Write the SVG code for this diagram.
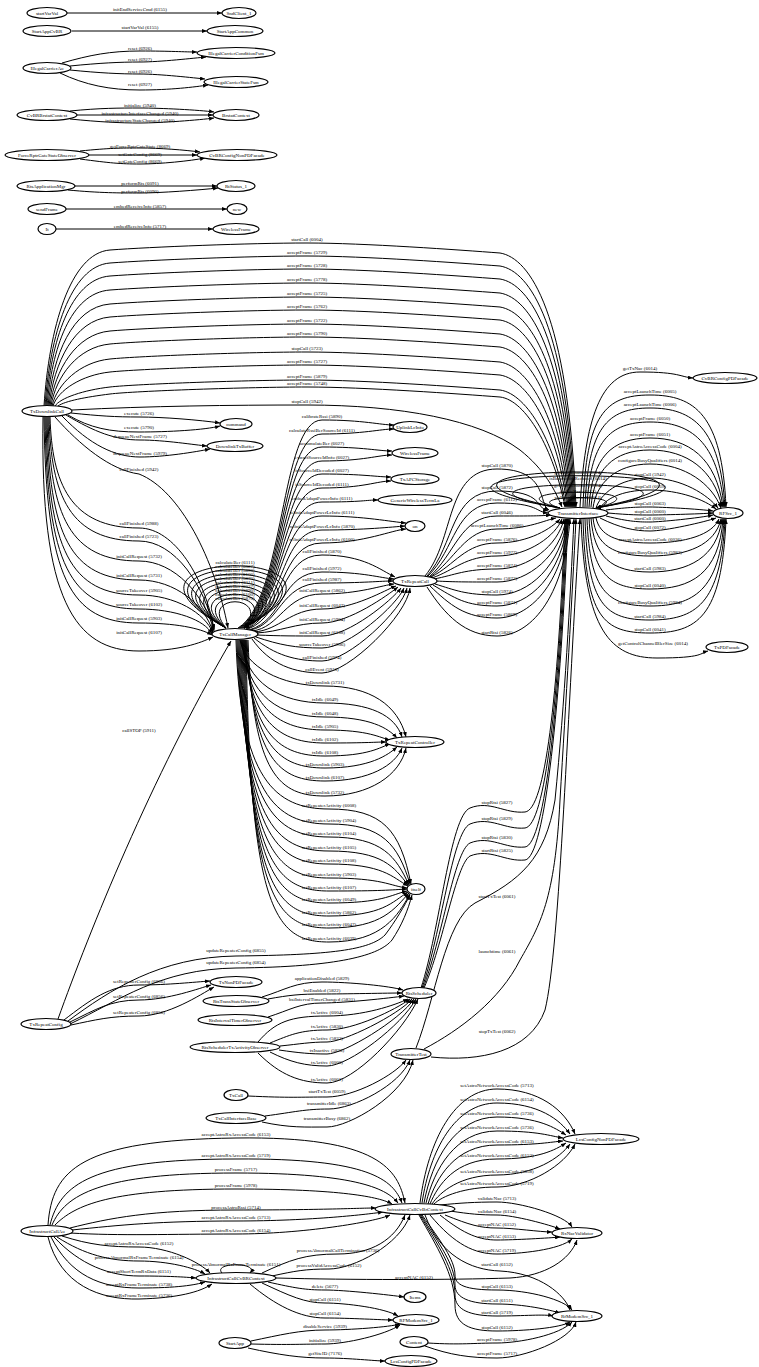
<svg xmlns="http://www.w3.org/2000/svg" width="759" height="1367" viewBox="0 0 759 1367">
<defs>
<marker id="a" markerUnits="userSpaceOnUse" markerWidth="5" markerHeight="4" refX="5" refY="2" orient="auto"><path d="M0,0 L5,2 L0,4 z" fill="#000"/></marker>
<style>
.node ellipse{fill:#fff;stroke:#000;stroke-width:1.2}
text{font-family:"Liberation Serif",serif;font-size:5px;text-anchor:middle;fill:#000}
#edges path{fill:none;stroke:#000;stroke-width:1;marker-end:url(#a)}
</style>
</defs>
<rect width="759" height="1367" fill="#fff"/>
<g id="edges">
<path d="M67,13 L222,13"/><text x="140" y="11">initEndServiceCmd (6155)</text>
<path d="M72,31 L207,31"/><text x="140" y="29">startVarVal (6155)</text>
<path d="M62,63 C90,55 110,51 140,51 S185,52 197,52"/><text x="140" y="49.7">reset (6926)</text>
<path d="M70,66 C100,63 120,62 140,62 S195,58 206,57"/><text x="140" y="60.7">reset (6927)</text>
<path d="M70,70 C100,73 120,74 140,74 S195,78 205,79"/><text x="140" y="72.7">reset (6926)</text>
<path d="M60,73 C85,85 110,90 140,90 S195,87 208,85"/><text x="140" y="85.7">reset (6927)</text>
<path d="M70,111 C100,108 120,108 140,108 S200,110 214,112"/><text x="140" y="106.7">initialize (5940)</text>
<path d="M77,115 L213,115"/><text x="140" y="114.5">infrastructureInterfaceChanged (5940)</text>
<path d="M70,119 C100,122 120,123 140,123 S200,120 214,118"/><text x="140" y="121.7">infrastructureStateChanged (5940)</text>
<path d="M80,151 C110,148 120,148 140,148 S185,150 200,152"/><text x="140" y="147.7">getForceRptrGateState (8669)</text>
<path d="M89,155 L197,155"/><text x="140" y="155.5">setGateConfig (8669)</text>
<path d="M80,159 C110,163 120,164 140,164 S190,161 205,158"/><text x="140" y="162.7">setGateConfig (8669)</text>
<path d="M75,186 L217,186"/><text x="140" y="184.7">performRts (6091)</text>
<path d="M68,190 C100,193 120,193 140,193 S200,190 218,188"/><text x="140" y="192.7">performRts (6090)</text>
<path d="M66,209 L227,209"/><text x="140" y="207.7">embedReceiveInfo (5857)</text>
<path d="M56,229 L213,229"/><text x="140" y="227.7">embedReceiveInfo (5717)</text>

<path d="M44,406 C49,329 70,253 110,250 S250,243 307,243 S460,250 500,253 C530,258 568,313 576,507"/><text x="307" y="241.3">startCall (6004)</text>
<path d="M45,406 C50,336 70,266 110,263 S250,256 307,256 S460,263 500,266 C530,271 567,326 575,507"/><text x="307" y="254.3">acceptFrame (5729)</text>
<path d="M46,406 C51,342 70,279 110,276 S250,269 307,269 S460,276 500,279 C530,284 566,339 574,507"/><text x="307" y="267.3">acceptFrame (5728)</text>
<path d="M47,406 C52,349 70,293 110,290 S250,283 307,283 S460,290 500,293 C530,298 565,353 573,507"/><text x="307" y="281.3">acceptFrame (5778)</text>
<path d="M48,406 C53,356 72,307 110,304 S250,297 307,297 S460,304 500,307 C530,312 564,367 572,507"/><text x="307" y="295.3">acceptFrame (5725)</text>
<path d="M49,406 C54,363 74,320 110,317 S250,310 307,310 S460,317 500,320 C530,325 563,380 571,507"/><text x="307" y="308.3">acceptFrame (5762)</text>
<path d="M50,406 C55,370 76,334 110,331 S250,324 307,324 S460,331 500,334 C530,339 562,394 570,507"/><text x="307" y="322.3">acceptFrame (5722)</text>
<path d="M51,406 C56,376 78,347 110,344 S250,337 307,337 S460,344 500,347 C530,352 561,407 569,507"/><text x="307" y="335.3">acceptFrame (5790)</text>
<path d="M52,406 C57,384 80,362 110,359 S250,352 307,352 S460,359 500,362 C530,367 560,422 568,507"/><text x="307" y="350.3">stopCall (5723)</text>
<path d="M53,406 C58,390 82,375 110,372 S250,365 307,365 S460,372 500,375 C530,380 559,435 567,507"/><text x="307" y="363.3">acceptFrame (5727)</text>
<path d="M55,406 C60,398 84,390 110,387 S250,380 307,380 S460,387 500,390 C528,394 556,445 566,507"/><text x="307" y="378.3">acceptFrame (5879)</text>
<path d="M58,406 C65,401 86,397 110,394 S250,387 307,387 S460,394 500,397 C526,400 554,450 565,507"/><text x="307" y="385.3">acceptFrame (5748)</text>
<path d="M72,410 C150,406 230,405 307,405 C400,405 480,420 520,450 C545,470 555,490 562,507"/><text x="307" y="403.3">stopCall (5942)</text>

<path d="M71,413 C100,416 115,417 139,417 S200,420 220,423"/><text x="139" y="414.7">execute (5726)</text>
<path d="M68,415 C90,428 110,432 139,432 S205,430 220,426"/><text x="139" y="428.7">execute (5790)</text>
<path d="M66,415 C95,432 115,440 140,440 S195,445 207,446"/><text x="140" y="437.7">dequeueNextFrame (5727)</text>
<path d="M62,416 C90,445 115,457 140,457 S195,452 210,449"/><text x="140" y="454.7">dequeueNextFrame (5979)</text>
<path d="M55,417 C80,445 110,470 139,474 C180,490 215,560 228,628"/><text x="139" y="470.7">callFinished (5942)</text>

<path d="M50,417 C52,483 70,528 139,528 C175,528 205,579 214,629"/><text x="139" y="524.7">callFinished (5988)</text>
<path d="M49,417 C51,496 70,541 139,541 C175,541 205,586 214,630"/><text x="139" y="537.7">callFinished (5723)</text>
<path d="M48,417 C50,516 70,561 139,561 C175,561 205,596 214,631"/><text x="139" y="557.7">initCallRequest (5732)</text>
<path d="M47,417 C49,535 70,580 139,580 C175,580 205,605 213,632"/><text x="139" y="576.7">initCallRequest (5731)</text>
<path d="M46,417 C48,550 70,595 139,595 C175,595 205,613 213,633"/><text x="139" y="591.7">sourceTakeover (5905)</text>
<path d="M45,417 C47,564 70,609 139,609 C175,609 205,620 212,634"/><text x="139" y="605.7">sourceTakeover (6102)</text>
<path d="M44,417 C46,578 70,623 139,623 C175,623 200,628 212,635"/><text x="139" y="619.7">initCallRequest (5903)</text>
<path d="M43,417 C40,600 75,651 139,651 C180,651 200,643 213,637"/><text x="139" y="633.7">initCallRequest (6107)</text>
<path d="M58,1019 C90,930 150,780 231,641"/><text x="139" y="731.7">callSTOP (5911)</text>

<path d="M226,628 C73,545 397,545 244,628"/><text x="235" y="563.5">calculateBer (6111)</text>
<path d="M226,628 C86,550 384,550 244,628"/><text x="235" y="567.5">calculateBer (6027)</text>
<path d="M226,628 C100,556 370,556 244,628"/><text x="235" y="571.5">calculateBer (5890)</text>
<path d="M226,628 C114,561 356,561 244,628"/><text x="235" y="575.5">calculateBer (6100)</text>
<path d="M226,628 C128,567 342,567 244,628"/><text x="235" y="579.5">calculateBer (5870)</text>
<path d="M226,628 C142,572 328,572 244,628"/><text x="235" y="583.5">calculateBer (6111)</text>
<path d="M226,628 C155,577 315,577 244,628"/><text x="235" y="587.5">calculateBer (6027)</text>
<path d="M226,628 C169,583 301,583 244,628"/><text x="235" y="591.5">calculateBer (5890)</text>
<path d="M226,628 C183,588 287,588 244,628"/><text x="235" y="595.5">calculateBer (6100)</text>
<path d="M226,628 C197,593 273,593 244,628"/><text x="235" y="599.5">calculateBer (5870)</text>

<path d="M238,628 C285,600 280,420 322,420 S380,425 394,425"/><text x="322" y="417.7">calibrateRssi (5890)</text>
<path d="M239,628 C285,600 280,434 322,434 S380,429 394,429"/><text x="322" y="431.7">calculateRssiBerSourceId (6111)</text>
<path d="M240,628 C285,600 280,447 322,447 S378,451 392,451"/><text x="322" y="444.7">accumulateBer (6027)</text>
<path d="M241,628 C285,600 280,461 322,461 S378,455 392,455"/><text x="322" y="458.7">extractSourceIdInfo (6027)</text>
<path d="M242,628 C285,600 280,474 322,474 S377,477 391,477"/><text x="322" y="471.7">isSourceIdDecoded (6027)</text>
<path d="M243,628 C285,600 280,488 322,488 S377,481 391,481"/><text x="322" y="485.7">isSourceIdDecoded (6111)</text>
<path d="M244,628 C285,600 280,502 322,502 S365,500 378,500"/><text x="322" y="499.7">embedAdaptPowerInfo (6111)</text>
<path d="M245,628 C285,600 280,516 322,516 S392,522 406,523"/><text x="322" y="513.7">relinitAdaptPowerLcInfo (6111)</text>
<path d="M246,629 C285,605 280,530 322,530 S392,527 405,526"/><text x="322" y="527.7">relinitAdaptPowerLcInfo (5870)</text>
<path d="M247,629 C285,610 280,543 322,543 S392,530 406,529"/><text x="322" y="540.7">relinitAdaptPowerLcInfo (6100)</text>
<path d="M248,629 C285,615 280,555 322,555 S380,570 395,577"/><text x="322" y="552.7">callFinished (5870)</text>
<path d="M249,630 C285,620 280,572 322,572 S380,578 394,579"/><text x="322" y="569.7">callFinished (5972)</text>
<path d="M250,630 C280,625 280,583 322,583 S380,581 393,581"/><text x="322" y="580.7">callFinished (5987)</text>
<path d="M252,631 C280,628 285,594 322,594 S383,585 394,584"/><text x="322" y="591.7">initCallRequest (5862)</text>
<path d="M254,632 C280,630 290,609 322,609 S385,590 396,586"/><text x="322" y="606.7">initCallRequest (6047)</text>
<path d="M256,633 C280,632 295,623 322,623 S388,595 398,587"/><text x="322" y="620.7">initCallRequest (5904)</text>
<path d="M257,635 C280,636 295,636 322,636 S392,600 401,588"/><text x="322" y="633.7">initCallRequest (6108)</text>
<path d="M256,637 C280,645 295,648 322,648 S397,605 404,588"/><text x="322" y="645.7">sourceTakeover (5906)</text>
<path d="M254,638 C275,655 295,661 322,661 S402,610 407,588"/><text x="322" y="658.7">callFinished (5974)</text>
<path d="M252,639 C270,665 295,673 322,673 S407,615 410,588"/><text x="322" y="670.7">callEvent (5910)</text>

<path d="M240,640 C245,666 280,686 325,686 S398,705 406,737"/><text x="325" y="683.7">txDownlink (5731)</text>
<path d="M241,640 C246,683 280,703 325,703 S395,715 402,737"/><text x="325" y="700.7">txIdle (6049)</text>
<path d="M242,640 C247,697 280,717 325,717 S388,728 397,738"/><text x="325" y="714.7">txIdle (6048)</text>
<path d="M243,640 C248,710 280,730 325,730 S380,738 390,740"/><text x="325" y="727.7">txIdle (5905)</text>
<path d="M244,640 C249,723 280,743 325,743 S375,742 386,742"/><text x="325" y="740.7">txIdle (6102)</text>
<path d="M245,640 C250,736 280,756 325,756 S380,747 390,744"/><text x="325" y="753.7">txIdle (6108)</text>
<path d="M246,640 C251,748 280,768 325,768 S388,755 397,747"/><text x="325" y="765.7">txDownlink (5903)</text>
<path d="M247,640 C252,761 280,781 325,781 S395,765 402,748"/><text x="325" y="778.7">txDownlink (6107)</text>
<path d="M248,640 C253,776 280,796 325,796 S400,775 406,748"/><text x="325" y="793.7">txDownlink (5732)</text>

<path d="M236,640 C240,779 275,809 329,809 S400,830 411,884"/><text x="329" y="806.7">setRepeaterActivity (6008)</text>
<path d="M237,640 C241,794 275,824 329,824 S398,845 410,884"/><text x="329" y="821.7">setRepeaterActivity (5904)</text>
<path d="M238,640 C242,807 275,837 329,837 S396,857 409,885"/><text x="329" y="834.7">setRepeaterActivity (6104)</text>
<path d="M239,640 C243,821 275,851 329,851 S394,867 408,885"/><text x="329" y="848.7">setRepeaterActivity (6105)</text>
<path d="M240,640 C244,834 275,864 329,864 S392,877 408,886"/><text x="329" y="861.7">setRepeaterActivity (6108)</text>
<path d="M241,640 C245,848 275,878 329,878 S390,886 407,888"/><text x="329" y="875.7">setRepeaterActivity (5903)</text>
<path d="M242,640 C246,861 275,891 329,891 S390,890 407,889"/><text x="329" y="888.7">setRepeaterActivity (6107)</text>
<path d="M243,640 C247,873 275,903 329,903 S390,895 407,891"/><text x="329" y="900.7">setRepeaterActivity (6049)</text>
<path d="M244,640 C248,886 275,916 329,916 S392,902 408,892"/><text x="329" y="913.7">setRepeaterActivity (5862)</text>
<path d="M245,640 C249,898 275,928 329,928 S395,908 409,893"/><text x="329" y="925.7">setRepeaterActivity (6047)</text>
<path d="M246,640 C250,912 275,942 329,942 S398,915 410,894"/><text x="329" y="939.7">setRepeaterActivity (6039)</text>

<path d="M68,1021 C110,990 160,957 236,956 C330,955 370,950 385,935 C395,922 405,905 410,895"/><text x="236" y="951.7">updateRepeaterConfig (6855)</text>
<path d="M70,1024 C120,1000 160,969 236,968 C340,967 380,955 392,940 C402,925 408,910 412,895"/><text x="236" y="963.7">updateRepeaterConfig (6854)</text>
<path d="M64,1020 C90,1000 110,985 139,985 S195,982 210,981"/><text x="139" y="982.7">setRepeaterConfig (6856)</text>
<path d="M70,1022 C95,1010 110,1000 139,1000 S200,988 211,985"/><text x="139" y="997.7">setRepeaterConfig (6856)</text>
<path d="M71,1025 C95,1020 110,1016 139,1016 S200,995 214,987"/><text x="139" y="1013.7">setRepeaterConfig (6856)</text>

<path d="M262,997 C285,990 295,982 322,982 S390,986 403,990"/><text x="322" y="979.7">applicationDisabled (5829)</text>
<path d="M268,999 C290,995 300,994 322,994 S390,993 402,993"/><text x="322" y="991.7">bsiEnabled (5822)</text>
<path d="M268,1017 C290,1010 300,1003 322,1003 S390,998 404,996"/><text x="322" y="1000.7">bsiIntervalTimerChanged (5831)</text>
<path d="M258,1042 C275,1022 290,1016 327,1016 S395,1005 408,999"/><text x="327" y="1013.7">txActive (6004)</text>
<path d="M270,1043 C290,1035 300,1030 327,1030 S395,1010 410,999"/><text x="327" y="1027.7">txActive (5830)</text>
<path d="M280,1046 C300,1044 310,1042 327,1042 S398,1015 412,999"/><text x="327" y="1039.7">txActive (5823)</text>
<path d="M279,1050 C300,1053 310,1054 327,1054 S400,1020 414,999"/><text x="327" y="1051.7">txInactive (5826)</text>
<path d="M270,1052 C290,1062 305,1066 327,1066 S402,1025 416,999"/><text x="327" y="1063.7">txActive (6000)</text>
<path d="M258,1053 C280,1075 300,1083 327,1083 S404,1030 418,999"/><text x="327" y="1080.7">txActive (6001)</text>

<path d="M248,1096 C290,1098 300,1097 327,1097 S395,1075 406,1060"/><text x="327" y="1092.7">startTxTest (6059)</text>
<path d="M265,1116 C295,1112 305,1109 329,1109 S400,1085 410,1060"/><text x="329" y="1104.7">transmitterIdle (6863)</text>
<path d="M262,1122 C290,1128 305,1127 327,1127 S405,1095 413,1060"/><text x="327" y="1119.7">transmitterBusy (6862)</text>

<path d="M416,1048 C435,1000 445,920 475,903 C520,880 545,860 555,800 C565,700 570,600 574,519"/><text x="497" y="897.7">startTxTest (6061)</text>
<path d="M424,1049 C460,1030 500,1000 520,960 C540,925 555,900 560,800 C566,700 572,600 576,519"/><text x="497" y="952.7">launchtime (6061)</text>
<path d="M431,1057 C480,1062 530,1052 545,1010 C560,950 568,700 580,519"/><text x="497" y="1032.7">stopTxTest (6062)</text>

<path d="M421,988 C440,930 450,816 470,808 C490,800 505,814 525,812 C545,810 558,700 565,519"/><text x="497" y="803.7">stopRtsi (5827)</text>
<path d="M422,988 C441,935 452,832 470,824 C490,816 505,830 525,828 C545,826 559,700 566,519"/><text x="497" y="819.7">stopRtsi (5829)</text>
<path d="M423,988 C442,940 454,851 470,843 C490,835 505,849 525,847 C545,845 560,700 567,519"/><text x="497" y="838.7">stopRtsi (5830)</text>
<path d="M424,988 C443,945 456,864 470,856 C490,848 505,862 525,860 C545,858 561,700 568,519"/><text x="497" y="851.7">startRtsi (5825)</text>

<path d="M425,576 C455,540 445,469 497,469 S538,505 549,510"/><text x="497" y="466.7">stopCall (5870)</text>
<path d="M427,576 C455,545 450,491 497,491 S535,508 548,511"/><text x="497" y="488.7">stopCall (5872)</text>
<path d="M428,576 C455,550 455,503 497,503 S535,512 548,513"/><text x="497" y="500.7">acceptFrame (6112)</text>
<path d="M429,577 C455,555 460,516 497,516 S540,516 551,515"/><text x="497" y="513.7">startCall (6046)</text>
<path d="M430,577 C455,560 465,529 497,529 S545,520 556,518"/><text x="497" y="526.7">acceptLaunchTime (6086)</text>
<path d="M431,577 C455,565 465,543 497,543 S552,528 560,519"/><text x="497" y="540.7">acceptFrame (5876)</text>
<path d="M432,578 C455,570 465,556 497,556 S556,535 562,519"/><text x="497" y="553.7">acceptFrame (5977)</text>
<path d="M434,579 C455,575 465,569 497,569 S558,545 564,519"/><text x="497" y="566.7">acceptFrame (5874)</text>
<path d="M436,581 C455,582 465,582 497,582 S560,555 566,519"/><text x="497" y="579.7">acceptFrame (5872)</text>
<path d="M435,584 C455,590 465,595 497,595 S561,565 567,519"/><text x="497" y="592.7">stopCall (5974)</text>
<path d="M433,585 C455,598 465,606 497,606 S562,575 568,519"/><text x="497" y="603.7">acceptFrame (5871)</text>
<path d="M430,586 C450,605 465,618 497,618 S563,585 569,519"/><text x="497" y="615.7">acceptFrame (5869)</text>
<path d="M427,587 C445,615 465,636 497,636 S564,600 570,519"/><text x="497" y="633.7">startRtsi (5826)</text>

<path d="M560,508 C307,465 849,465 596,508"/><text x="578" y="473.7">getBusyChannel (6014)</text>
<path d="M560,508 C327,460 829,460 596,508"/><text x="578" y="479.7">isBandwidthReduced (6014)</text>
<path d="M560,508 C383,477 773,477 596,508"/><text x="578" y="486.7">getAstroChannel (6014)</text>
<path d="M560,508 C476,487 680,487 596,508"/><text x="578" y="492.7">updateRssi (6111)</text>
<path d="M560,508 C513,494 643,494 596,508"/><text x="578" y="498.7">setBusyChannel (6014)</text>

<path d="M580,507 C585,420 600,372 640,372 S680,377 693,378"/><text x="640" y="369.7">getTxNac (6014)</text>
<path d="M583,507 C586,415 605,395 650,395 S722,415 726,507"/><text x="650" y="392.7">acceptLaunchTime (6005)</text>
<path d="M585,507 C588,428 607,408 650,408 S720,428 725,507"/><text x="650" y="405.7">acceptLaunchTime (6006)</text>
<path d="M587,507 C590,442 609,422 650,422 S718,442 724,507"/><text x="650" y="419.7">acceptFrame (6050)</text>
<path d="M589,507 C592,458 611,438 650,438 S716,458 723,507"/><text x="650" y="435.7">acceptFrame (6051)</text>
<path d="M591,507 C594,470 613,450 650,450 S714,470 722,507"/><text x="650" y="447.7">acceptAstroAccessCode (6004)</text>
<path d="M593,508 C596,484 615,464 650,464 S712,484 721,508"/><text x="650" y="461.7">configureBusyQualifiers (6014)</text>
<path d="M596,508 C600,495 618,478 650,478 S708,495 718,508"/><text x="650" y="475.7">stopCall (5942)</text>
<path d="M600,508 C605,500 620,490 650,490 S705,500 716,509"/><text x="650" y="487.7">stopCall (6059)</text>
<path d="M606,510 C630,507 640,507 650,507 S700,509 713,511"/><text x="650" y="504.7">stopCall (6063)</text>
<path d="M608,513 C630,515 640,515 650,515 S700,514 713,513"/><text x="650" y="512.7">stopCall (6060)</text>
<path d="M606,516 C630,522 640,522 650,522 S700,518 713,515"/><text x="650" y="519.7">startCall (6060)</text>
<path d="M600,518 C620,528 635,531 650,531 S705,522 716,518"/><text x="650" y="528.7">stopCall (6072)</text>
<path d="M596,518 C600,535 615,543 650,543 S712,535 719,519"/><text x="650" y="540.7">acceptAstroAccessCode (6036)</text>
<path d="M593,518 C596,545 613,556 650,556 S715,545 721,519"/><text x="650" y="553.7">configureBusyQualifiers (5983)</text>
<path d="M591,518 C594,557 611,572 650,572 S717,557 722,519"/><text x="650" y="569.7">startCall (5983)</text>
<path d="M589,518 C592,574 609,589 650,589 S719,574 723,519"/><text x="650" y="586.7">stopCall (6040)</text>
<path d="M587,519 C590,591 607,606 650,606 S720,591 724,519"/><text x="650" y="603.7">configureBusyQualifiers (5984)</text>
<path d="M585,519 C588,605 605,620 650,620 S721,605 725,519"/><text x="650" y="617.7">startCall (5984)</text>
<path d="M583,519 C586,618 603,633 650,633 S722,618 726,519"/><text x="650" y="630.7">stopCall (6041)</text>
<path d="M581,519 C585,630 610,658 657,658 S700,653 708,651"/><text x="653" y="644.7">getControlChannelBlerSize (6014)</text>

<path d="M48,1225 C52,1170 80,1140 236,1138 C380,1136 398,1170 405,1203"/><text x="236" y="1135.7">acceptAstroRxAccessCode (6153)</text>
<path d="M50,1225 C60,1185 90,1159 236,1159 C370,1158 393,1180 402,1203"/><text x="236" y="1156.7">acceptAstroRxAccessCode (5719)</text>
<path d="M52,1225 C65,1195 100,1173 236,1173 C360,1173 388,1190 398,1203"/><text x="236" y="1170.7">processFrame (5717)</text>
<path d="M55,1225 C75,1205 110,1189 236,1189 C340,1189 380,1197 392,1204"/><text x="236" y="1186.7">processFrame (5978)</text>
<path d="M70,1228 C110,1218 150,1210 236,1210 S360,1208 376,1208"/><text x="236" y="1208.7">processAstroRssi (5714)</text>
<path d="M72,1230 C120,1225 160,1221 236,1221 S370,1214 383,1212"/><text x="236" y="1218.7">acceptAstroRxAccessCode (5713)</text>
<path d="M70,1233 C120,1236 170,1234 236,1234 S375,1222 390,1215"/><text x="236" y="1231.7">acceptAstroRxAccessCode (6154)</text>
<path d="M62,1236 C90,1245 110,1247 139,1247 S200,1262 210,1273"/><text x="139" y="1244.7">acceptAstroRxAccessCode (6152)</text>
<path d="M57,1237 C85,1255 110,1261 139,1261 S195,1268 205,1274"/><text x="139" y="1258.7">processAbnormalRxFrameTerminate (6154)</text>
<path d="M54,1237 C80,1265 110,1276 139,1276 S185,1277 196,1278"/><text x="139" y="1272.7">acceptShortTermRxData (6151)</text>
<path d="M51,1237 C70,1275 100,1288 139,1288 S195,1285 205,1282"/><text x="139" y="1285.7">acceptRxFrameTerminate (5738)</text>
<path d="M48,1237 C60,1285 100,1300 139,1299 S200,1292 212,1284"/><text x="139" y="1296.7">acceptRxFrameTerminate (5736)</text>
<path d="M222,1273 C212,1262 260,1262 250,1273"/><text x="236" y="1265.7">processAbnormalRxFrameTerminate (6151)</text>
<path d="M262,1273 C290,1260 305,1254 338,1254 S395,1240 405,1215"/><text x="338" y="1251.7">processAbnormalCallTermination (5736)</text>
<path d="M272,1276 C295,1271 305,1269 329,1269 S400,1245 410,1215"/><text x="329" y="1266.7">processValidAccessCode (6152)</text>
<path d="M276,1278 C350,1280 450,1280 510,1278 C545,1276 570,1260 577,1240"/><text x="414" y="1278.7">acceptNAC (6152)</text>
<path d="M268,1282 C295,1288 305,1290 325,1290 S390,1295 404,1297"/><text x="325" y="1287.7">delete (5677)</text>
<path d="M262,1283 C290,1296 305,1303 325,1303 S385,1308 398,1316"/><text x="325" y="1300.7">stopCall (6151)</text>
<path d="M250,1284 C275,1305 300,1318 325,1318 S383,1320 393,1320"/><text x="325" y="1314.7">stopCall (6154)</text>
<path d="M251,1341 C280,1335 300,1330 325,1330 S390,1327 400,1324"/><text x="325" y="1327.7">disableService (5939)</text>
<path d="M251,1344 C290,1345 305,1344 325,1344 S385,1335 400,1325"/><text x="325" y="1341.7">initialize (5939)</text>
<path d="M248,1348 C280,1355 300,1358 325,1358 S375,1361 385,1361"/><text x="325" y="1354.7">getSiteID (7176)</text>

<path d="M420,1203 C428,1140 455,1089 497,1089 S565,1110 575,1134"/><text x="497" y="1086.7">setAstroNetworkAccessCode (5713)</text>
<path d="M422,1203 C430,1150 455,1103 497,1103 S560,1120 570,1134"/><text x="497" y="1100.7">setAstroNetworkAccessCode (6154)</text>
<path d="M424,1203 C432,1160 455,1117 497,1117 S555,1128 566,1135"/><text x="497" y="1114.7">setAstroNetworkAccessCode (5736)</text>
<path d="M426,1203 C434,1170 455,1131 497,1131 S550,1136 563,1138"/><text x="497" y="1128.7">setAstroNetworkAccessCode (5736)</text>
<path d="M428,1204 C436,1178 455,1145 497,1145 S550,1142 563,1141"/><text x="497" y="1142.7">setAstroNetworkAccessCode (6153)</text>
<path d="M430,1204 C438,1185 455,1159 497,1159 S555,1150 566,1143"/><text x="497" y="1156.7">setAstroNetworkAccessCode (6153)</text>
<path d="M432,1204 C440,1192 460,1175 497,1175 S560,1158 570,1144"/><text x="497" y="1172.7">setAstroNetworkAccessCode (5858)</text>
<path d="M434,1204 C442,1196 465,1187 497,1187 S565,1165 575,1144"/><text x="497" y="1184.7">setAstroNetworkAccessCode (5719)</text>
<path d="M440,1205 C460,1203 475,1202 497,1202 S565,1215 572,1227"/><text x="497" y="1199.7">validateNac (5713)</text>
<path d="M450,1211 C470,1214 480,1215 497,1215 S550,1225 560,1229"/><text x="497" y="1212.7">validateNac (6154)</text>
<path d="M445,1215 C470,1225 480,1228 497,1228 S540,1232 552,1232"/><text x="497" y="1225.7">acceptNAC (6152)</text>
<path d="M440,1215 C465,1235 480,1240 497,1240 S550,1238 560,1237"/><text x="497" y="1237.7">acceptNAC (6153)</text>
<path d="M430,1215 C455,1245 475,1254 497,1254 S560,1250 572,1239"/><text x="497" y="1251.7">acceptNAC (5719)</text>
<path d="M425,1215 C440,1255 470,1270 500,1271 C540,1273 565,1295 570,1310"/><text x="497" y="1265.7">startCall (6152)</text>
<path d="M422,1215 C440,1240 455,1260 455,1275 C455,1285 465,1290 497,1290 S565,1300 572,1310"/><text x="497" y="1287.7">stopCall (6153)</text>
<path d="M421,1215 C440,1245 455,1265 455,1285 C455,1298 470,1304 497,1304 S550,1310 560,1313"/><text x="497" y="1301.7">startCall (6151)</text>
<path d="M420,1215 C438,1245 455,1270 455,1295 C455,1310 470,1316 497,1316 S545,1314 553,1316"/><text x="497" y="1313.7">startCall (5719)</text>
<path d="M419,1215 C436,1245 455,1275 455,1305 C455,1325 470,1331 497,1331 S560,1328 570,1322"/><text x="497" y="1328.7">stopCall (6152)</text>
<path d="M428,1343 C460,1345 475,1343 497,1343 S560,1335 572,1322"/><text x="497" y="1340.7">acceptFrame (5978)</text>
<path d="M425,1346 C450,1355 470,1358 497,1358 S570,1340 576,1322"/><text x="497" y="1354.7">acceptFrame (5717)</text>
</g>

<g id="startVarVal" class="node"><ellipse cx="47" cy="13" rx="20" ry="5.5"/><text x="47" y="14.7">startVarVal</text></g>
<g id="SndClient_1" class="node"><ellipse cx="239" cy="13" rx="17" ry="5.5"/><text x="239" y="14.7">SndClient_1</text></g>
<g id="StartAppCvBR" class="node"><ellipse cx="47" cy="31" rx="24" ry="5.5"/><text x="47" y="32.7">StartAppCvBR</text></g>
<g id="StartAppCommon" class="node"><ellipse cx="235" cy="31" rx="28" ry="5.5"/><text x="235" y="32.7">StartAppCommon</text></g>
<g id="IllegalCarrierAo" class="node"><ellipse cx="47" cy="68" rx="24" ry="5.5"/><text x="47" y="69.7">IllegalCarrierAo</text></g>
<g id="IllegalCarrierConditionFsm" class="node"><ellipse cx="236" cy="53" rx="39" ry="5.5"/><text x="236" y="54.7">IllegalCarrierConditionFsm</text></g>
<g id="IllegalCarrierStateFsm" class="node"><ellipse cx="236" cy="82" rx="32" ry="5.5"/><text x="236" y="83.7">IllegalCarrierStateFsm</text></g>
<g id="CvBRBrstatContext" class="node"><ellipse cx="47" cy="115" rx="30" ry="5.5"/><text x="47" y="116.7">CvBRBrstatContext</text></g>
<g id="BrstatContext" class="node"><ellipse cx="236" cy="115" rx="23" ry="5.5"/><text x="236" y="116.7">BrstatContext</text></g>
<g id="ForceRptrGateStateObserver" class="node"><ellipse cx="47" cy="155" rx="42" ry="5.5"/><text x="47" y="156.7">ForceRptrGateStateObserver</text></g>
<g id="CvBRConfigNonPDFacade" class="node"><ellipse cx="237" cy="155" rx="40" ry="5.5"/><text x="237" y="156.7">CvBRConfigNonPDFacade</text></g>
<g id="RtsApplicationMgr" class="node"><ellipse cx="46" cy="186" rx="29" ry="5.5"/><text x="46" y="187.7">RtsApplicationMgr</text></g>
<g id="RtStatus_1" class="node"><ellipse cx="236" cy="186" rx="19" ry="5.5"/><text x="236" y="187.7">RtStatus_1</text></g>
<g id="sendFrame" class="node"><ellipse cx="47" cy="209" rx="19" ry="5.5"/><text x="47" y="210.7">sendFrame</text></g>
<g id="new" class="node"><ellipse cx="237" cy="209" rx="10" ry="5.5"/><text x="237" y="210.7">new</text></g>
<g id="It" class="node"><ellipse cx="47" cy="229" rx="9" ry="5.5"/><text x="47" y="230.7">It</text></g>
<g id="WirelessFrame_a" class="node"><ellipse cx="236" cy="229" rx="23" ry="5.5"/><text x="236" y="230.7">WirelessFrame</text></g>
<g id="TxDownlinkCall" class="node"><ellipse cx="47" cy="411" rx="25" ry="5.5"/><text x="47" y="412.7">TxDownlinkCall</text></g>
<g id="command" class="node"><ellipse cx="236" cy="424" rx="16" ry="5.5"/><text x="236" y="425.7">command</text></g>
<g id="DownlinkTxBuffer" class="node"><ellipse cx="235" cy="446" rx="28" ry="5.5"/><text x="235" y="447.7">DownlinkTxBuffer</text></g>
<g id="UplinkLcInfo" class="node"><ellipse cx="410" cy="427" rx="17" ry="5.5"/><text x="410" y="428.7">UplinkLcInfo</text></g>
<g id="WirelessFrame_b" class="node"><ellipse cx="415" cy="453" rx="23" ry="5.5"/><text x="415" y="454.7">WirelessFrame</text></g>
<g id="TxAPCStorage" class="node"><ellipse cx="415" cy="479" rx="24" ry="5.5"/><text x="415" y="480.7">TxAPCStorage</text></g>
<g id="GenericWirelessTermLa" class="node"><ellipse cx="415" cy="500" rx="37" ry="5.5"/><text x="415" y="501.7">GenericWirelessTermLa</text></g>
<g id="on" class="node"><ellipse cx="415" cy="526" rx="10" ry="5.5"/><text x="415" y="527.7">on</text></g>
<g id="TxRepeatCall" class="node"><ellipse cx="415" cy="581" rx="22" ry="5.5"/><text x="415" y="582.7">TxRepeatCall</text></g>
<g id="TxCallManager" class="node"><ellipse cx="235" cy="634" rx="23" ry="5.5"/><text x="235" y="635.7">TxCallManager</text></g>
<g id="TxRepeatController" class="node"><ellipse cx="415" cy="742" rx="29" ry="5.5"/><text x="415" y="743.7">TxRepeatController</text></g>
<g id="itself" class="node"><ellipse cx="416" cy="889" rx="9" ry="5.5"/><text x="416" y="890.7">itself</text></g>
<g id="TxRepeatConfig" class="node"><ellipse cx="46" cy="1024" rx="25" ry="5.5"/><text x="46" y="1025.7">TxRepeatConfig</text></g>
<g id="TxNonPDFacade" class="node"><ellipse cx="236" cy="982" rx="26" ry="5.5"/><text x="236" y="983.7">TxNonPDFacade</text></g>
<g id="RtsScheduler" class="node"><ellipse cx="419" cy="993" rx="17" ry="5.5"/><text x="419" y="994.7">RtsScheduler</text></g>
<g id="RtsTransStateObserver" class="node"><ellipse cx="236" cy="1001" rx="33" ry="5.5"/><text x="236" y="1002.7">RtsTransStateObserver</text></g>
<g id="RtsIntervalTimerObserver" class="node"><ellipse cx="235" cy="1020" rx="37" ry="5.5"/><text x="235" y="1021.7">RtsIntervalTimerObserver</text></g>
<g id="RtsSchedulerTxActivityObserver" class="node"><ellipse cx="235" cy="1047" rx="45" ry="5.5"/><text x="235" y="1048.7">RtsSchedulerTxActivityObserver</text></g>
<g id="TransmitterTest" class="node"><ellipse cx="411" cy="1054" rx="20" ry="5.5"/><text x="411" y="1055.7">TransmitterTest</text></g>
<g id="TxCall" class="node"><ellipse cx="236" cy="1095" rx="12" ry="5.5"/><text x="236" y="1096.7">TxCall</text></g>
<g id="TxCallInterfaceBase" class="node"><ellipse cx="236" cy="1118" rx="30" ry="5.5"/><text x="236" y="1119.7">TxCallInterfaceBase</text></g>
<g id="TransmitterInterface" class="node"><ellipse cx="578" cy="513" rx="30" ry="5.5"/><text x="578" y="514.7">TransmitterInterface</text></g>
<g id="RFSrc_1" class="node"><ellipse cx="728" cy="513" rx="15" ry="5.5"/><text x="728" y="514.7">RFSrc_1</text></g>
<g id="CvBRConfigPDFacade" class="node"><ellipse cx="725" cy="378" rx="32" ry="5.5"/><text x="725" y="379.7">CvBRConfigPDFacade</text></g>
<g id="TxPDFacade" class="node"><ellipse cx="727" cy="647" rx="21" ry="5.5"/><text x="727" y="648.7">TxPDFacade</text></g>
<g id="InfrastructCallAo" class="node"><ellipse cx="47" cy="1231" rx="26" ry="5.5"/><text x="47" y="1232.7">InfrastructCallAo</text></g>
<g id="InfrastructCallCvBrContext" class="node"><ellipse cx="415" cy="1209" rx="40" ry="5.5"/><text x="415" y="1210.7">InfrastructCallCvBrContext</text></g>
<g id="InfrastructCallCvBRContext" class="node"><ellipse cx="236" cy="1278" rx="40" ry="5.5"/><text x="236" y="1279.7">InfrastructCallCvBRContext</text></g>
<g id="Items" class="node"><ellipse cx="415" cy="1297" rx="11" ry="5.5"/><text x="415" y="1298.7">Items</text></g>
<g id="RFModemSrc_1" class="node"><ellipse cx="416" cy="1320" rx="23" ry="5.5"/><text x="416" y="1321.7">RFModemSrc_1</text></g>
<g id="StartApp" class="node"><ellipse cx="235" cy="1343" rx="16" ry="5.5"/><text x="235" y="1344.7">StartApp</text></g>
<g id="Content" class="node"><ellipse cx="414" cy="1342" rx="14" ry="5.5"/><text x="414" y="1343.7">Content</text></g>
<g id="LcsConfigPDFacade" class="node"><ellipse cx="411" cy="1361" rx="26" ry="5.5"/><text x="411" y="1362.7">LcsConfigPDFacade</text></g>
<g id="LcsConfigNonPDFacade" class="node"><ellipse cx="601" cy="1139" rx="38" ry="5.5"/><text x="601" y="1140.7">LcsConfigNonPDFacade</text></g>
<g id="RxNacValidator" class="node"><ellipse cx="577" cy="1233" rx="25" ry="5.5"/><text x="577" y="1234.7">RxNacValidator</text></g>
<g id="RfModemSrc_1" class="node"><ellipse cx="577" cy="1316" rx="25" ry="5.5"/><text x="577" y="1317.7">RfModemSrc_1</text></g>
</svg>
